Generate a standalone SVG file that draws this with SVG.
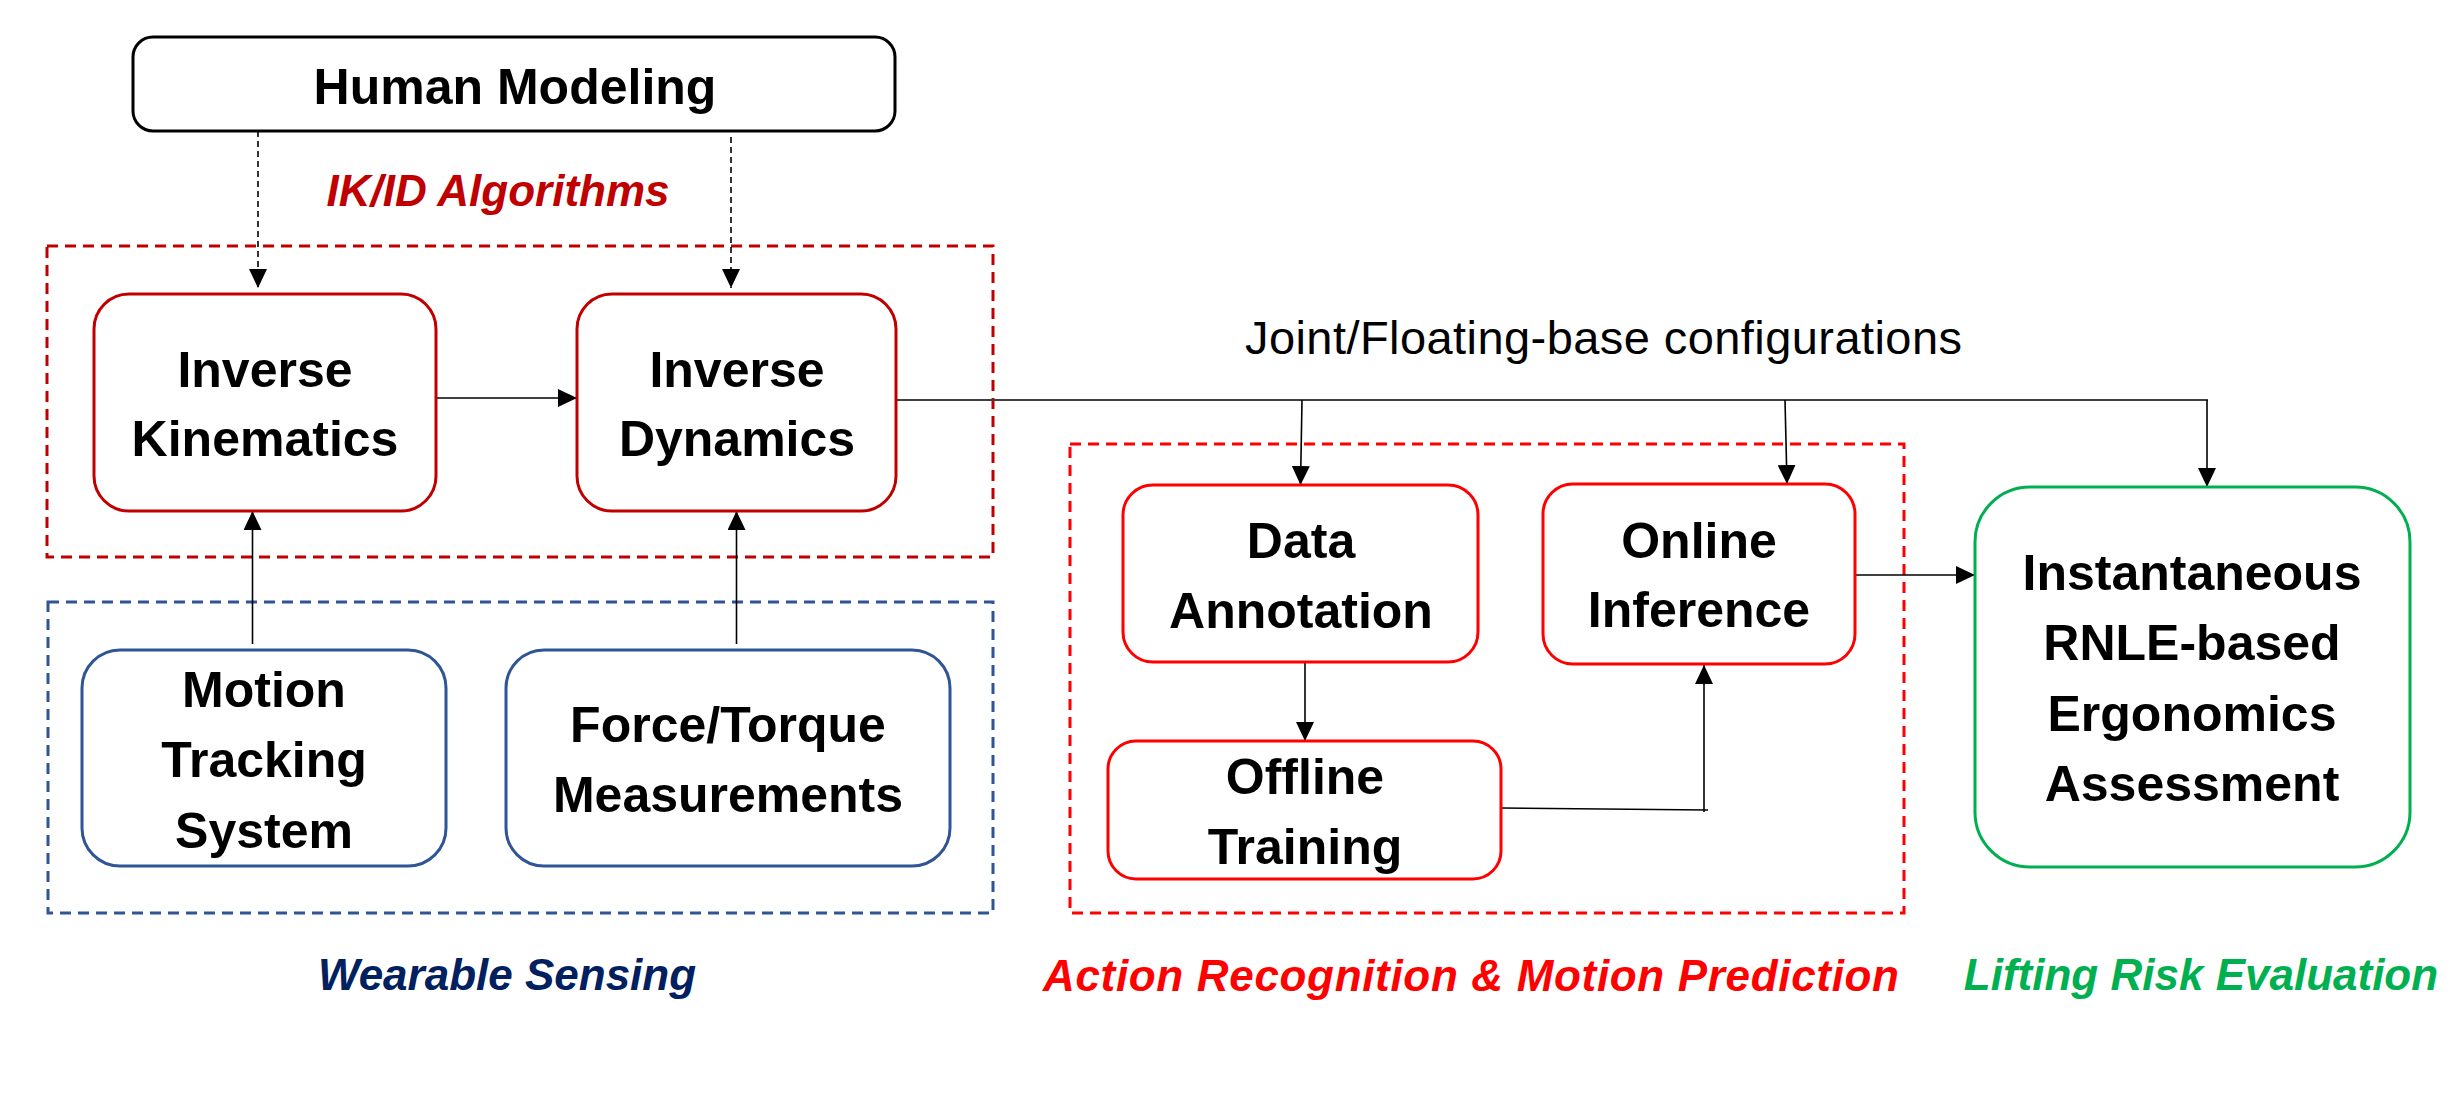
<svg xmlns="http://www.w3.org/2000/svg" width="2452" height="1094" viewBox="0 0 2452 1094">
<style>
.bg{fill:#fff}
.node{fill:#fff;stroke-width:3}
.dk{stroke:#C00000}
.rd{stroke:#FF0000}
.bl{stroke:#2F5597}
.gr{stroke:#00B050}
.grp{fill:none;stroke-width:3;stroke-dasharray:11 7}
.lbl{font-family:"Liberation Sans",Arial,sans-serif;font-weight:bold;font-size:50px;fill:#000;text-anchor:middle}
.cap{font-family:"Liberation Sans",Arial,sans-serif;font-weight:bold;font-style:italic;font-size:44px;text-anchor:middle}
.conn{fill:none;stroke:#000;stroke-width:1.6}
.dash{stroke-dasharray:6 4;stroke-width:1.6}
.main{stroke:#404040;stroke-width:2}
</style>
<defs>
<marker id="ah" markerWidth="19" markerHeight="18" refX="19" refY="9" orient="auto" markerUnits="userSpaceOnUse">
<path d="M0,0 L19,9 L0,18 z" fill="#000"/>
</marker>
</defs>
<rect class="bg" x="0" y="0" width="2452" height="1094"/>

<g id="group-ikid">
<rect class="grp dk" x="47" y="246" width="946" height="311"/>
<text class="cap" x="498" y="206" fill="#C00000">IK/ID Algorithms</text>
</g>
<g id="group-wearable">
<rect class="grp bl" x="48" y="602" width="945" height="311"/>
<text class="cap" x="507" y="990" fill="#002060">Wearable Sensing</text>
</g>
<g id="group-action">
<rect class="grp rd" x="1070" y="444" width="834" height="469"/>
<text class="cap" x="1471" y="991" fill="#FF0000" textLength="856">Action Recognition &amp; Motion Prediction</text>
</g>
<g id="group-lifting">
<text class="cap" x="2201" y="990" fill="#00B050">Lifting Risk Evaluation</text>
</g>

<g id="connectors">
<line class="conn dash" x1="258" y1="131" x2="258" y2="288" marker-end="url(#ah)"/>
<line class="conn dash" x1="731" y1="137" x2="731" y2="288" marker-end="url(#ah)"/>
<line class="conn" x1="436" y1="398" x2="577" y2="398" marker-end="url(#ah)"/>
<line class="conn" x1="252.5" y1="644" x2="252.5" y2="511" marker-end="url(#ah)"/>
<line class="conn" x1="736.5" y1="644" x2="736.5" y2="511" marker-end="url(#ah)"/>
<line class="conn main" x1="896" y1="400" x2="2208" y2="400"/>
<line class="conn" x1="2207" y1="400" x2="2207" y2="487" marker-end="url(#ah)"/>
<line class="conn" x1="1302" y1="400" x2="1300.5" y2="485" marker-end="url(#ah)"/>
<line class="conn" x1="1785" y1="400" x2="1787" y2="484" marker-end="url(#ah)"/>
<line class="conn" x1="1305" y1="662" x2="1305" y2="741" marker-end="url(#ah)"/>
<line class="conn" x1="1501" y1="808" x2="1708" y2="810"/>
<line class="conn" x1="1704" y1="812" x2="1704" y2="665" marker-end="url(#ah)"/>
<line class="conn" x1="1855" y1="575" x2="1975" y2="575" marker-end="url(#ah)"/>
<text x="1245" y="354" font-family="Liberation Sans, Arial, sans-serif" font-size="47" fill="#000" textLength="717">Joint/Floating-base configurations</text>
</g>

<g id="human-modeling">
<rect class="node" x="133" y="37" width="762" height="94" rx="20" stroke="#000"/>
<text class="lbl" x="515" y="104" font-size="52">Human Modeling</text>
</g>
<g id="inverse-kinematics">
<rect class="node dk" x="94" y="294" width="342" height="217" rx="35"/>
<text class="lbl" x="265" y="387">Inverse</text>
<text class="lbl" x="265" y="456">Kinematics</text>
</g>
<g id="inverse-dynamics">
<rect class="node dk" x="577" y="294" width="319" height="217" rx="35"/>
<text class="lbl" x="737" y="387">Inverse</text>
<text class="lbl" x="737" y="456">Dynamics</text>
</g>
<g id="motion-tracking">
<rect class="node bl" x="82" y="650" width="364" height="216" rx="38"/>
<text class="lbl" x="264" y="707">Motion</text>
<text class="lbl" x="264" y="777">Tracking</text>
<text class="lbl" x="264" y="848">System</text>
</g>
<g id="force-torque">
<rect class="node bl" x="506" y="650" width="444" height="216" rx="38"/>
<text class="lbl" x="728" y="742">Force/Torque</text>
<text class="lbl" x="728" y="812">Measurements</text>
</g>
<g id="data-annotation">
<rect class="node rd" x="1123" y="485" width="355" height="177" rx="30"/>
<text class="lbl" x="1301" y="558">Data</text>
<text class="lbl" x="1301" y="628">Annotation</text>
</g>
<g id="online-inference">
<rect class="node rd" x="1543" y="484" width="312" height="180" rx="30"/>
<text class="lbl" x="1699" y="558">Online</text>
<text class="lbl" x="1699" y="627">Inference</text>
</g>
<g id="offline-training">
<rect class="node rd" x="1108" y="741" width="393" height="138" rx="28"/>
<text class="lbl" x="1305" y="794">Offline</text>
<text class="lbl" x="1305" y="864">Training</text>
</g>
<g id="ergonomics-assessment">
<rect class="node gr" x="1975" y="487" width="435" height="380" rx="55"/>
<text class="lbl" x="2192" y="590">Instantaneous</text>
<text class="lbl" x="2192" y="660">RNLE-based</text>
<text class="lbl" x="2192" y="731">Ergonomics</text>
<text class="lbl" x="2192" y="801">Assessment</text>
</g>
</svg>
